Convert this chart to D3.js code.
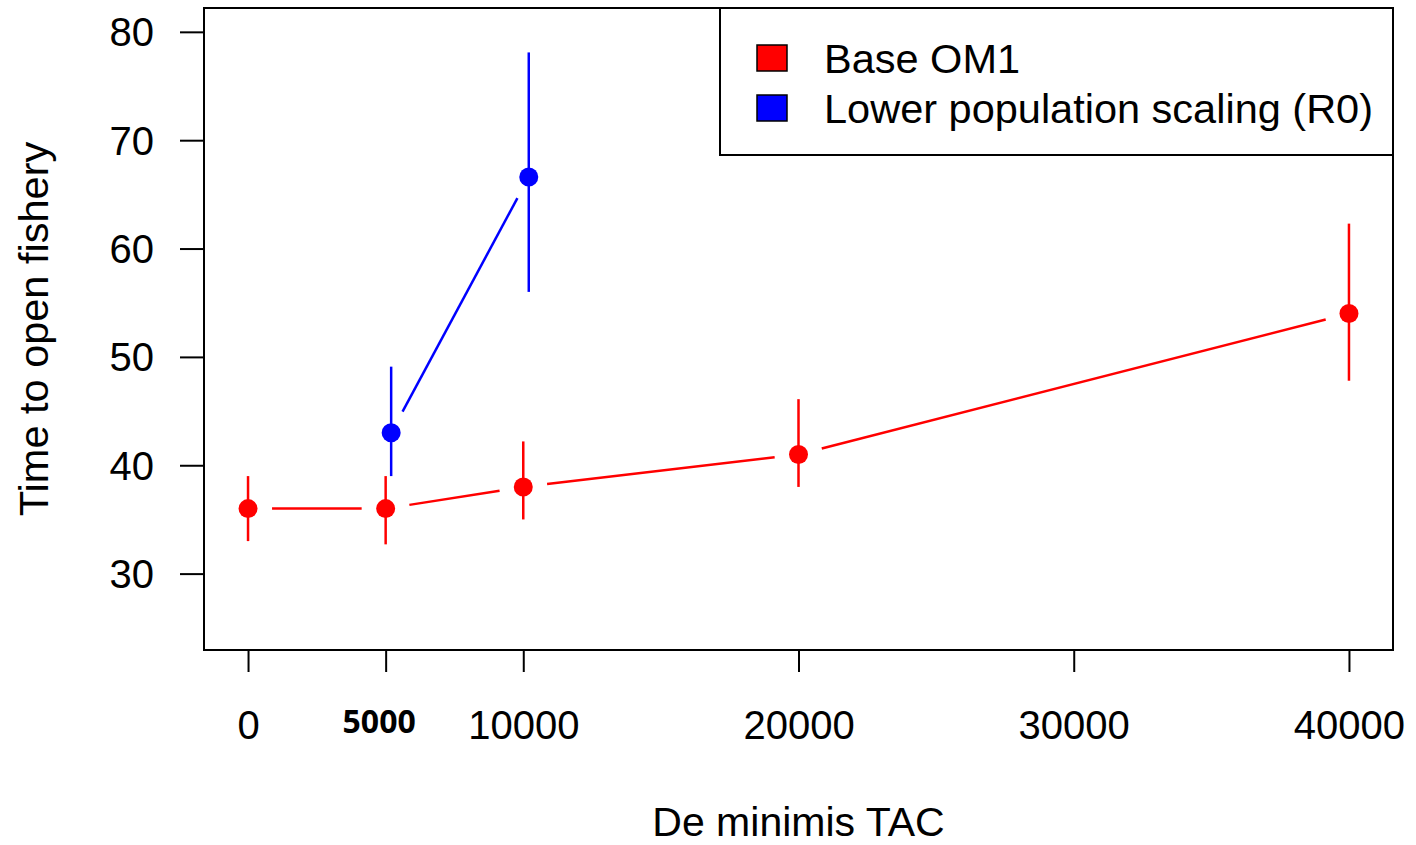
<!DOCTYPE html>
<html>
<head>
<meta charset="utf-8">
<script src="https://cdn.jsdelivr.net/npm/d3@7"></script>
<style>
  body { margin: 0; background: #fff; }
  text { font-family: "Liberation Sans", Arial, sans-serif; fill: #000; }
</style>
</head>
<body>
<div id="chart"></div>
<script>
// Data
var xTicks = [0, 5000, 10000, 20000, 30000, 40000];
var yTicks = [30, 40, 50, 60, 70, 80];

var baseX  = [0, 5000, 10000, 20000, 40000];
var baseY  = [36, 36, 38, 41, 54];
var baseLo = [33, 32.7, 35, 38, 47.8];
var baseHi = [39, 39, 42.2, 46.1, 62.3];

var lowX  = [5200, 10200];
var lowY  = [43, 66.6];
var lowLo = [39, 56];
var lowHi = [49.1, 78.1];

var seriesNames = ["Base OM1", "Lower population scaling (R0)"];
var seriesColors = ["#ff0000", "#0000ff"];

var width = 1416, height = 845;
var box = {left: 204, right: 1393, top: 8, bottom: 650};

var svg = d3.select("#chart").append("svg")
    .attr("width", width)
    .attr("height", height);

var x = d3.scaleLinear().domain([-1600, 41600]).range([box.left, box.right]);
var y = d3.scaleLinear().domain([22.95, 82.2]).range([box.bottom, box.top]);

// plot frame
svg.append("rect")
    .attr("x", box.left).attr("y", box.top)
    .attr("width", box.right - box.left).attr("height", box.bottom - box.top)
    .attr("fill", "none").attr("stroke", "#000").attr("stroke-width", 2);

// y axis (ticks outside the frame, R style)
var yAxis = svg.append("g")
    .attr("transform", "translate(" + (box.left - 24) + ",0)")
    .call(d3.axisLeft(y).tickValues(yTicks).tickSize(0).tickPadding(26));
yAxis.select(".domain").remove();
yAxis.selectAll(".tick line").remove();
yAxis.selectAll(".tick").append("line")
    .attr("x1", 0).attr("x2", 24)
    .attr("stroke", "#000").attr("stroke-width", 2);
yAxis.selectAll(".tick text")
    .style("font-size", "40px")
    .attr("dy", "0.35em");

// x axis
var xAxis = svg.append("g")
    .attr("transform", "translate(0," + box.bottom + ")")
    .call(d3.axisBottom(x).tickValues(xTicks).tickSize(22)
        .tickFormat(d3.format("d")));
xAxis.select(".domain").remove();
xAxis.selectAll(".tick line").attr("stroke", "#000").attr("stroke-width", 2);
xAxis.selectAll(".tick text")
    .style("font-size", "40px")
    .attr("dy", "0.35em")
    .attr("y", 75);
xAxis.selectAll(".tick text")
    .filter(function(d) { return d === 5000; })
    .style("font-family", "'Open Sans', sans-serif")
    .style("font-weight", "bold")
    .style("font-size", "32px")
    .attr("x", -7)
    .attr("y", 72);

// axis titles
svg.append("text")
    .attr("x", (box.left + box.right) / 2)
    .attr("y", 836)
    .attr("text-anchor", "middle")
    .style("font-size", "41px")
    .text("De minimis TAC");

svg.append("text")
    .attr("transform", "translate(48," + ((box.top + box.bottom) / 2) + ") rotate(-90)")
    .attr("text-anchor", "middle")
    .style("font-size", "41.5px")
    .text("Time to open fishery");

// series drawing, R type="b": segments stop short of the points
function drawSeries(xs, ys, lo, hi, color) {
    var g = svg.append("g");
    var pts = xs.map(function(d, i) { return [x(d), y(ys[i])]; });
    var gap = 24;
    for (var i = 0; i < pts.length - 1; i++) {
        var a = pts[i], b = pts[i + 1];
        var dx = b[0] - a[0], dy = b[1] - a[1];
        var len = Math.sqrt(dx * dx + dy * dy);
        if (len <= 2 * gap) continue;
        var ux = dx / len, uy = dy / len;
        g.append("line")
            .attr("x1", a[0] + ux * gap).attr("y1", a[1] + uy * gap)
            .attr("x2", b[0] - ux * gap).attr("y2", b[1] - uy * gap)
            .attr("stroke", color).attr("stroke-width", 2.5);
    }
    g.selectAll(".err")
        .data(xs)
      .enter().append("line")
        .attr("x1", function(d) { return x(d); })
        .attr("x2", function(d) { return x(d); })
        .attr("y1", function(d, i) { return y(lo[i]); })
        .attr("y2", function(d, i) { return y(hi[i]); })
        .attr("stroke", color).attr("stroke-width", 2.5);
    g.selectAll(".pt")
        .data(xs)
      .enter().append("circle")
        .attr("cx", function(d) { return x(d); })
        .attr("cy", function(d, i) { return y(ys[i]); })
        .attr("r", 9.5)
        .attr("fill", color);
}

drawSeries(baseX, baseY, baseLo, baseHi, seriesColors[0]);
drawSeries(lowX, lowY, lowLo, lowHi, seriesColors[1]);

// legend
var lg = svg.append("g");
lg.append("rect")
    .attr("x", 720).attr("y", box.top)
    .attr("width", box.right - 720).attr("height", 147)
    .attr("fill", "#fff").attr("stroke", "#000").attr("stroke-width", 2);
seriesNames.forEach(function(name, i) {
    var cy = 58 + i * 50;
    lg.append("rect")
        .attr("x", 757).attr("y", cy - 13)
        .attr("width", 30).attr("height", 26)
        .attr("fill", seriesColors[i]).attr("stroke", "#000").attr("stroke-width", 1.5);
    lg.append("text")
        .attr("x", 824).attr("y", cy)
        .attr("dy", "0.35em")
        .style("font-size", "41.5px")
        .text(name);
});
</script>
</body>
</html>
